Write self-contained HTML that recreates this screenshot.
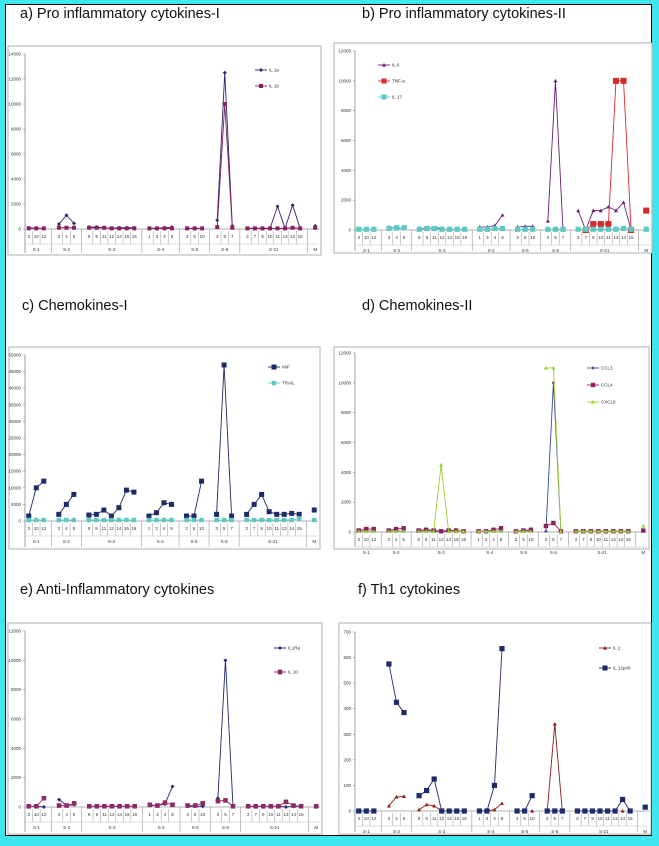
<!DOCTYPE html>
<html><head><meta charset="utf-8"><style>
html,body{margin:0;padding:0;}
body{width:659px;height:846px;position:relative;overflow:hidden;background:#3fe6ee;font-family:"Liberation Sans",Arial,sans-serif;}
#inner{position:absolute;left:5px;top:4px;width:645px;height:830px;background:#fff;border:1.5px solid #000;}
.t{position:absolute;font-size:14.5px;color:#111;white-space:nowrap;}
svg{position:absolute;left:0;top:0;}
</style></head><body>
<div id="inner"></div>
<div class="t" style="left:20px;top:6px">a) Pro inflammatory cytokines-I</div>
<div class="t" style="left:362px;top:6px">b) Pro inflammatory cytokines-II</div>
<div class="t" style="left:22px;top:298px">c) Chemokines-I</div>
<div class="t" style="left:362px;top:298px">d) Chemokines-II</div>
<div class="t" style="left:20px;top:582px">e) Anti-Inflammatory cytokines</div>
<div class="t" style="left:358px;top:582px">f) Th1 cytokines</div>
<svg id="s" width="659" height="846" xmlns="http://www.w3.org/2000/svg" font-family="Liberation Sans, Arial, sans-serif"></svg>
<script>
const NS="http://www.w3.org/2000/svg";
const svg=document.getElementById('s');
function el(n,a,txt){const e=document.createElementNS(NS,n);for(const k in a)e.setAttribute(k,a[k]);if(txt!==undefined)e.textContent=txt;svg.appendChild(e);return e;}
const groups=[['S-1',['3','10','12']],['S-2',['3','4','5']],['S-3',['8','9','11','12','14','15','16']],['S-4',['1','3','4','8']],['S-5',['3','6','10']],['S-6',['3','5','7']],['S-21',['3','7','9','10','11','13','14','15']],['M',['']]];
function marker(sh,x,y,s,c){
 if(sh==='d')el('polygon',{points:`${x},${y-s} ${x+s},${y} ${x},${y+s} ${x-s},${y}`,fill:c});
 else if(sh==='s')el('rect',{x:x-s,y:y-s,width:2*s,height:2*s,fill:c});
 else if(sh==='t')el('polygon',{points:`${x},${y-s} ${x+s},${y+s*0.8} ${x-s},${y+s*0.8}`,fill:c});
}
function panel(o){
 const b=o.box;
 el('rect',{x:b.x,y:b.y,width:b.w,height:b.h,fill:'#fff',stroke:'#b0b0b0','stroke-width':1});
 const ax=o.ax,x1=b.x+b.w-2,sw=(x1-ax)/39,y0=o.y0,yt=o.yt;
 const yb=b.y+b.h-2;
 el('line',{x1:ax,y1:yt,x2:ax,y2:yb,stroke:'#888','stroke-width':0.8});
 for(let v=0;v<=o.ymax;v+=o.step){const y=y0-(y0-yt)*v/o.ymax;
  el('line',{x1:ax-2,y1:y,x2:ax,y2:y,stroke:'#888','stroke-width':0.6});
  el('text',{x:ax-4,y:y+1.5,'font-size':4.5,'text-anchor':'end',fill:'#333'},String(v));}
 el('line',{x1:ax,y1:y0,x2:x1,y2:y0,stroke:'#999','stroke-width':0.8});
 // slots
 let k=0;const pos=[];const r1=y0+15;
 groups.forEach((g,gi)=>{
  const start=k;
  g[1].forEach((lab,i)=>{const cx=ax+(k+0.5)*sw;pos.push(cx);
   el('text',{x:cx,y:y0+9,'font-size':4.5,'text-anchor':'middle',fill:'#333'},lab);
   if(i>0)el('line',{x1:ax+k*sw,y1:y0+2,x2:ax+k*sw,y2:r1,stroke:'#999','stroke-width':0.5});
   k++;});
  const gc=ax+(start+g[1].length/2)*sw;
  el('text',{x:gc,y:y0+22,'font-size':4.5,'text-anchor':'middle',fill:'#333'},g[0]);
  if(gi<groups.length-1){const bx=ax+(k+0.5)*sw;el('line',{x1:bx,y1:y0,x2:bx,y2:yb,stroke:'#999','stroke-width':0.6});k++;}
 });
 el('line',{x1:ax,y1:r1,x2:x1,y2:r1,stroke:'#bbb','stroke-width':0.5});
 const Y=v=>y0-(y0-yt)*v/o.ymax;
 o.series.forEach(s=>{
  let idx=0;
  groups.forEach(g=>{let pts=[];
   g[1].forEach(()=>{const v=s.d[idx];if(v!==null&&v!==undefined)pts.push([pos[idx],Y(v)]);else{if(pts.length>1)el('polyline',{points:pts.map(p=>p.join(',')).join(' '),fill:'none',stroke:s.c,'stroke-width':0.9});pts=[];}idx++;});
   if(pts.length>1)el('polyline',{points:pts.map(p=>p.join(',')).join(' '),fill:'none',stroke:s.c,'stroke-width':0.9});
  });
  s.d.forEach((v,i)=>{if(v!==null&&v!==undefined)marker(s.m,pos[i],Y(v),s.z,s.c);});
 });
 o.series.forEach((s,i)=>{const lx=o.lx,ly=o.ly+i*o.lg;
  el('line',{x1:lx,y1:ly,x2:lx+12,y2:ly,stroke:s.c,'stroke-width':0.9});
  marker(s.m,lx+6,ly,Math.min(s.z,2.5),s.c);
  el('text',{x:lx+14,y:ly+1.5,'font-size':4.5,fill:'#333'},s.n);});
}
const N=null;
const navy='#23286e',maroon='#8a2060',cyan='#5ec8c2';
panel({box:{x:8,y:46,w:313,h:209},ax:25,y0:229,yt:54,ymax:14000,step:2000,lx:255,ly:70,lg:16,
 series:[
 {n:'IL 1a',c:navy,m:'d',z:2,d:[100,50,50,400,1100,450,150,150,100,50,100,100,100,50,50,100,150,50,50,50,700,12500,250,50,50,50,50,1800,50,1900,50,250]},
 {n:'IL 1b',c:maroon,m:'s',z:2,d:[50,50,50,100,100,100,100,100,100,50,50,50,50,50,50,50,50,50,50,50,150,10000,100,50,50,50,50,50,50,100,50,100]}]});
panel({box:{x:334,y:43,w:318,h:210},ax:355,y0:230,yt:51,ymax:12000,step:2000,lx:378,ly:65,lg:16,
 series:[
 {n:'IL 6',c:'#6a1f7a',m:'t',z:2,d:[N,N,N,200,100,150,100,100,150,100,N,N,N,200,200,300,1000,200,250,250,600,10000,0,1300,0,1300,1300,1550,1300,1850,0,N]},
 {n:'TNF-a',c:'#d42a2a',m:'s',z:3,d:[N,N,N,N,N,N,N,N,N,N,N,N,N,N,N,N,N,N,N,N,N,N,N,N,0,400,400,400,10000,10000,0,1300]},
 {n:'IL 17',c:cyan,m:'s',z:2.6,d:[50,50,50,100,150,150,50,100,100,50,50,50,50,50,50,100,100,50,50,50,50,50,50,50,50,50,50,50,50,100,50,50]}]});
panel({box:{x:9,y:347,w:311,h:202},ax:25,y0:521,yt:355,ymax:50000,step:5000,lx:268,ly:367,lg:16,
 series:[
 {n:'MIF',c:'#1f2a68',m:'s',z:2.5,d:[1500,10000,12000,2000,5000,8000,1800,2000,3300,1500,4000,9300,8700,1500,2500,5500,5000,1500,1500,12000,2000,47000,1500,2000,5000,8000,2800,2000,2000,2300,2000,3300]},
 {n:'TRAIL',c:cyan,m:'s',z:2.2,d:[300,300,300,300,300,300,300,300,300,300,300,300,300,300,300,300,300,300,300,300,300,300,300,300,300,300,300,300,300,300,800,300]}]});
panel({box:{x:334,y:347,w:315,h:202},ax:355,y0:532,yt:353,ymax:12000,step:2000,lx:587,ly:368,lg:17,
 series:[
 {n:'CCL3',c:'#3a4aa0',m:'d',z:1.8,d:[50,50,50,50,50,50,50,50,50,50,50,50,50,50,50,50,50,50,50,50,50,10000,50,50,50,50,50,50,50,50,50,50]},
 {n:'CCL4',c:maroon,m:'s',z:2.2,d:[100,200,200,100,200,250,100,150,100,50,100,100,50,50,50,150,250,50,100,150,400,600,50,50,50,50,50,50,50,50,50,100]},
 {n:'CXCL8',c:'#9acd32',m:'t',z:2,d:[50,50,50,50,50,50,50,50,50,4500,50,50,50,50,50,50,50,50,50,50,11000,11000,50,50,50,50,50,50,50,50,50,400]}]});
panel({box:{x:8,y:623,w:314,h:211},ax:25,y0:807,yt:631,ymax:12000,step:2000,lx:274,ly:648,lg:24,
 series:[
 {n:'IL1Ra',c:navy,m:'d',z:2,d:[50,50,0,500,100,150,50,50,50,50,50,50,50,100,100,200,1400,50,50,50,600,10000,50,50,50,50,50,50,0,50,50,50]},
 {n:'IL 10',c:'#8c2a64',m:'s',z:2.3,d:[50,50,600,100,100,250,50,50,50,50,50,50,50,150,100,300,150,100,100,250,400,450,50,50,50,50,50,50,350,100,50,50]}]});
panel({box:{x:339,y:623,w:312,h:211},ax:355,y0:811,yt:632,ymax:700,step:100,lx:599,ly:648,lg:20,
 series:[
 {n:'IL 2',c:'#8b1a1a',m:'t',z:2,d:[N,N,N,20,55,57,5,25,20,0,N,N,N,0,0,5,30,N,N,0,0,340,0,N,N,N,N,N,N,0,N,N]},
 {n:'IL 12p40',c:'#1f2a68',m:'s',z:2.6,d:[0,0,0,575,425,385,60,80,125,0,0,0,0,0,0,100,635,0,0,60,0,0,0,0,0,0,0,0,0,45,0,15]}]});
</script>
</body></html>
